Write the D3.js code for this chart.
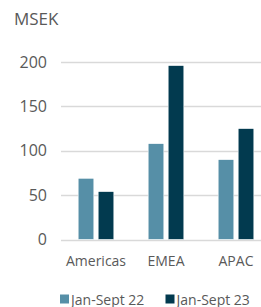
<!DOCTYPE html>
<html><head><meta charset="utf-8">
<script src="https://cdn.jsdelivr.net/npm/d3@7"></script>
<style>html,body{margin:0;padding:0;background:#fff;}svg{display:block;}</style>
</head><body>
<script>
const categories = ["Americas", "EMEA", "APAC"];
const seriesNames = ["Jan-Sept 22", "Jan-Sept 23"];
const values22 = [69, 108, 90];
const values23 = [54, 196, 125];
const yTicks = [0, 50, 100, 150, 200];
const unitLabel = "MSEK";
const colors = ["#568fa7", "#023a4f"];

const W = 261, H = 307;
const font = "'Open Sans', sans-serif";
const textColor = "#595959";
const svg = d3.select("body").append("svg").attr("width", W).attr("height", H);

const y = d3.scaleLinear().domain([0, 200]).range([239.5, 62]);
const x0 = d3.scaleBand().domain(categories).range([61, 271]).paddingInner(0.49).paddingOuter(0.245);
const x1 = d3.scaleBand().domain(seriesNames).range([0, x0.bandwidth()]).paddingInner(0.215);

// grid
svg.append("g").selectAll("line").data(yTicks).join("line")
  .attr("x1", 61).attr("x2", 271)
  .attr("y1", d => Math.round(y(d)) + 0.5).attr("y2", d => Math.round(y(d)) + 0.5)
  .attr("stroke", "#d9d9d9").attr("stroke-width", 1.5);

// y labels
svg.append("g").selectAll("text").data(yTicks).join("text")
  .attr("x", 47).attr("y", d => y(d)).attr("dy", "0.35em")
  .attr("text-anchor", "end").attr("font-family", font).attr("font-size", 16)
  .attr("fill", textColor).text(d => d);

svg.append("text").attr("x", 14).attr("y", 25).attr("font-family", font)
  .attr("font-size", 17).attr("fill", textColor).text(unitLabel);

const data = categories.map((c, i) => ({cat: c, vals: [values22[i], values23[i]]}));
const groups = svg.append("g").selectAll("g").data(data).join("g")
  .attr("transform", d => `translate(${x0(d.cat)},0)`);
groups.selectAll("rect").data(d => d.vals.map((v, j) => ({s: seriesNames[j], v, j})))
  .join("rect")
  .attr("x", d => x1(d.s)).attr("width", x1.bandwidth())
  .attr("y", d => y(d.v)).attr("height", d => y(0) - y(d.v))
  .attr("fill", d => colors[d.j]).attr("stroke", "#fff").attr("stroke-width", 0.6);

// x labels
svg.append("g").selectAll("text").data(categories).join("text")
  .attr("x", d => x0(d) + x0.bandwidth() / 2).attr("y", 266)
  .attr("text-anchor", "middle").attr("font-family", font).attr("font-size", 14)
  .attr("fill", textColor).text(d => d);

// legend
const legX = [60, 165.5];
const leg = svg.append("g").selectAll("g").data(seriesNames).join("g")
  .attr("transform", (d, i) => `translate(${legX[i]},0)`);
leg.append("rect").attr("x", 0).attr("y", 294.5).attr("width", 9).attr("height", 9)
  .attr("fill", (d, i) => colors[i]);
leg.append("text").attr("x", 11).attr("y", 304.5).attr("font-family", font)
  .attr("font-size", 14).attr("fill", textColor).text(d => d);
</script>
</body></html>
